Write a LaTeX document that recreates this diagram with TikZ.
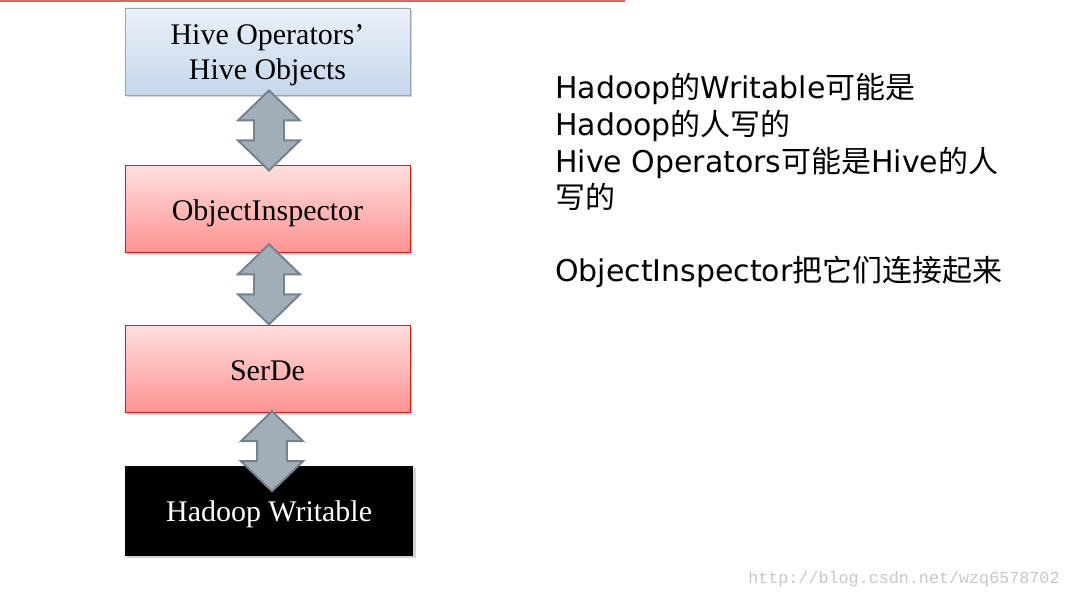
\documentclass[tikz,border=0pt]{standalone}
\usepackage{fontspec}
\setmainfont{Liberation Serif}
\newfontfamily\verd{DejaVu Sans}
\newfontfamily\cjk{Noto Sans CJK SC}
\newfontfamily\webmono{Liberation Mono}
\newcommand{\zh}[1]{{\cjk #1}}
\usetikzlibrary{positioning, calc, shadows}

\definecolor{hivetop}{HTML}{EAF0F8}
\definecolor{hivebot}{HTML}{C6D7EB}
\definecolor{hiveline}{HTML}{9AA5B1}
\definecolor{redtop}{HTML}{FFDEDE}
\definecolor{redbot}{HTML}{FF9292}
\definecolor{redline}{HTML}{E01818}
\definecolor{arrowfill}{HTML}{A1ADB9}
\definecolor{arrowline}{HTML}{75828E}
\definecolor{rule}{HTML}{E06464}

\begin{document}
\begin{tikzpicture}[x=0.025cm, y=-0.025cm,
    layer/.style={minimum width=7.125cm, minimum height=2.175cm, align=center,
        text height=20pt, text depth=4.4pt,
        font=\fontsize{21.3}{24.9}\selectfont,
        drop shadow={shadow xshift=0.06cm, shadow yshift=-0.06cm, opacity=0.35}},
    hivebox/.style={layer, draw=hiveline, line width=0.6pt, top color=hivetop, bottom color=hivebot},
    redbox/.style={layer, draw=redline, line width=0.6pt, top color=redtop, bottom color=redbot},
    blackbox/.style={layer, fill=black, text=white, minimum width=7.2cm, minimum height=2.25cm},
    linkarrow/.style={fill=arrowfill, draw=arrowline, line width=1.4pt, line join=miter}]

\useasboundingbox (0,0) rectangle (1070,597);

% Top rule
\draw[rule, line width=1.4pt] (0,1) -- (625,1);

% Layers
\node[hivebox, text height=44.9pt] (hive) at (267.5,51.5) {Hive Operators’\\Hive Objects};
\node[redbox, below=1.75cm of hive] (oi) {ObjectInspector};
\node[redbox, below=1.8cm of oi] (serde) {SerDe};
\node[blackbox, below=1.3cm of serde, xshift=0.04cm] (writable) {Hadoop Writable};

% Double arrows between layers
\foreach \up/\dx/\dy in {hive/1.5/-5, oi/1.5/-9, serde/4.5/-2}
    \draw[linkarrow] ($(\up.south)+(\dx,\dy)$) -- ++(31,30) -- ++(-16,0) -- ++(0,20)
        -- ++(16,0) -- ++(-31,30) -- ++(-31,-30) -- ++(16,0) -- ++(0,-20) -- ++(-16,0) -- cycle;

% Notes
\node[anchor=base west, align=left, inner sep=0pt,
    font=\verd\fontsize{21.3}{26}\selectfont] (notes) at (555,281.7)
    {Hadoop\zh{的}Writable\zh{可能是}\\
     Hadoop\zh{的人写的}\\
     Hive Operators\zh{可能是}Hive\zh{的人}\\
     \zh{写的}\\[26pt]
     ObjectInspector\zh{把它们连接起来}};

% Watermark
\node[anchor=base west, inner sep=0pt, text=black!22,
    font=\webmono\fontsize{11.9}{14}\selectfont] (mark) at (748,583) {http://blog.csdn.net/wzq6578702};

\end{tikzpicture}
\end{document}
